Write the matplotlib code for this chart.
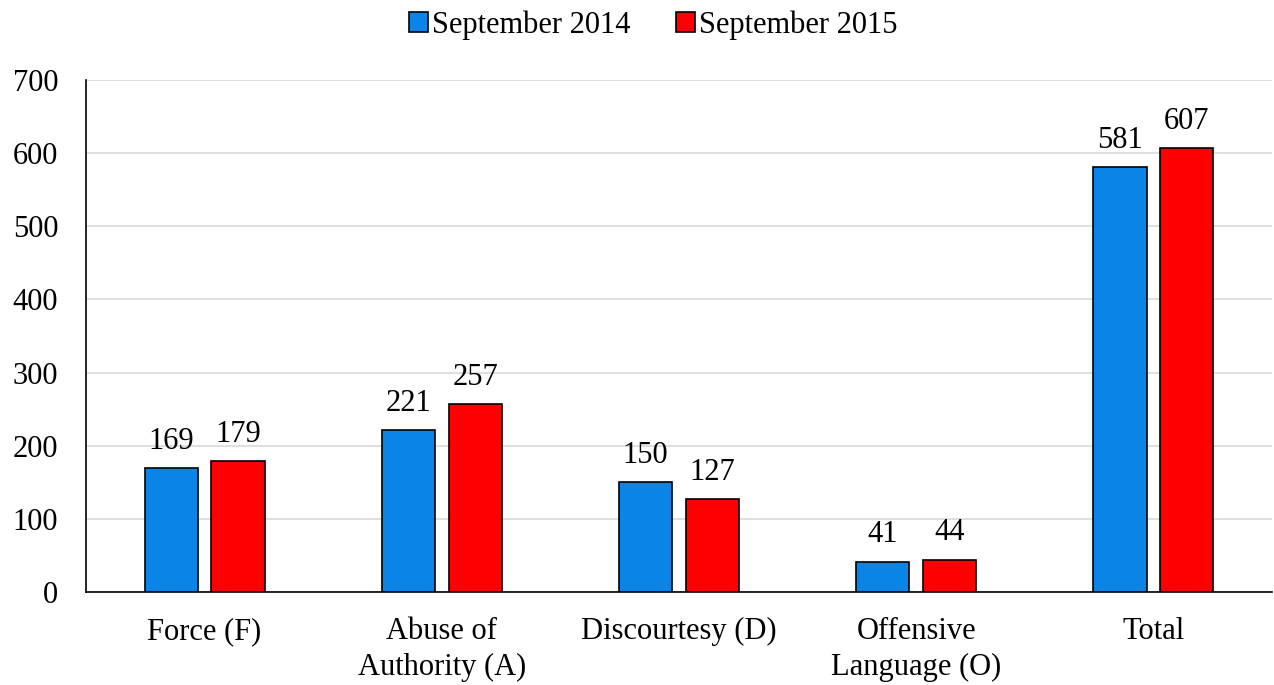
import matplotlib.pyplot as plt
import numpy as np

plt.rcParams['font.family'] = ['Liberation Serif', 'DejaVu Serif']

categories = ['Force (F)', 'Abuse of\nAuthority (A)', 'Discourtesy (D)',
              'Offensive\nLanguage (O)', 'Total']
sep_2014 = [169, 221, 150, 41, 581]
sep_2015 = [179, 257, 127, 44, 607]

fig = plt.figure(figsize=(12.74, 6.85), dpi=100)
ax = fig.add_axes([0.0675, 0.1358, 0.931, 0.7474])

x = np.arange(len(categories))
w = 0.224
off = 0.141
b1 = ax.bar(x - off, sep_2014, w, color='#0A84E6', edgecolor='black',
            linewidth=1.2, label='September 2014', zorder=3)
b2 = ax.bar(x + off, sep_2015, w, color='#FF0000', edgecolor='black',
            linewidth=1.2, label='September 2015', zorder=3)

for bars, vals in ((b1, sep_2014), (b2, sep_2015)):
    for r, v in zip(bars, vals):
        ax.annotate(str(v), (r.get_x() + r.get_width() / 2, v),
                    xytext=(0, 9), textcoords='offset points',
                    ha='center', va='bottom', fontsize=22)

ax.set_xlim(-0.5, 4.5)
ax.set_ylim(0, 700)
ax.set_yticks(range(0, 701, 100))
ax.set_xticks(x)
ax.set_xticklabels(categories, linespacing=1.3)
ax.tick_params(axis='both', labelsize=22, length=0)
ax.tick_params(axis='x', pad=18)
ax.tick_params(axis='y', pad=20)
ax.yaxis.grid(True, color='#D9D9D9', linewidth=1.2, zorder=0)
ax.spines['top'].set_visible(False)
ax.spines['right'].set_visible(False)
ax.spines['left'].set_linewidth(1.2)
ax.spines['bottom'].set_linewidth(1.2)

fig.legend(handles=[b1, b2], loc='upper center', bbox_to_anchor=(0.513, 1.025),
           ncol=2, frameon=False, fontsize=22, handlelength=0.6,
           handleheight=0.6, handletextpad=0.15, columnspacing=1.5)

fig.savefig('out.png', dpi=100)
